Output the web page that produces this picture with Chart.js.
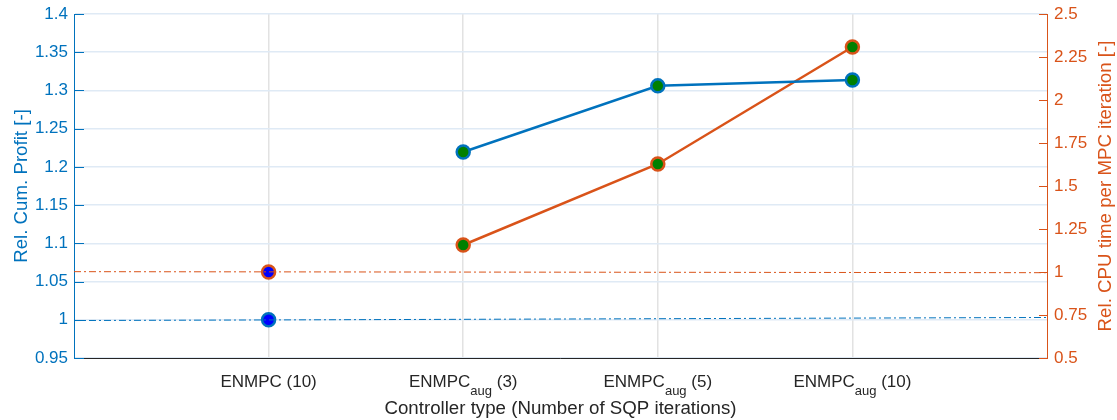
<!DOCTYPE html>
<html>
<head>
<meta charset="utf-8">
<script src="https://cdn.jsdelivr.net/npm/chart.js@4/dist/chart.umd.min.js"></script>
<style>
  html, body { margin: 0; padding: 0; background: #ffffff; }
  #wrap { width: 1117px; height: 420px; position: relative; }
</style>
</head>
<body>
<div id="wrap"><canvas id="c" width="1117" height="420"></canvas></div>
<script>
// ---- data ----
const categoryBase   = ['ENMPC', 'ENMPC', 'ENMPC', 'ENMPC'];
const categorySub    = ['', 'aug', 'aug', 'aug'];
const categorySuffix = [' (10)', ' (3)', ' (5)', ' (10)'];
const categoryPos    = [0, 1, 2, 3];

const relProfit = [1.0, 1.2195, 1.306, 1.3137];
const relCpu    = [1.0, 1.157, 1.628, 2.308];

// dash-dot reference lines (value at left edge, value at right edge)
const refLineX      = [-1, 4];
const refProfitLine = [0.999, 1.003];
const refCpuLine    = [1.002, 0.996];

const leftTicks  = [0.95, 1, 1.05, 1.1, 1.15, 1.2, 1.25, 1.3, 1.35, 1.4];
const rightTicks = [0.5, 0.75, 1, 1.25, 1.5, 1.75, 2, 2.25, 2.5];

const xLabel      = 'Controller type (Number of SQP iterations)';
const leftLabel   = 'Rel. Cum. Profit [-]';
const rightLabel  = 'Rel. CPU time per MPC iteration [-]';

// ---- styles ----
const BLUE = '#0072BD';
const ORANGE = '#D95319';
const GREEN = '#008000';
const MARK_BLUE = '#0000FF';
const FONT = "'Liberation Sans', Arial, Helvetica, sans-serif";

const pts = (xs, ys) => xs.map((x, i) => ({ x: x, y: ys[i] }));

const datasets = [
  { // reference lines (on top)
    data: pts(refLineX, refProfitLine), yAxisID: 'yL', borderColor: BLUE, borderWidth: 1,
    borderDash: [7, 3, 2, 3], pointRadius: 0, showLine: true, order: 0
  },
  {
    data: pts(refLineX, refCpuLine), yAxisID: 'yR', borderColor: ORANGE, borderWidth: 1,
    borderDash: [7, 3, 2, 3], pointRadius: 0, showLine: true, order: 0
  },
  { // augmented series
    data: pts(categoryPos.slice(1), relProfit.slice(1)), yAxisID: 'yL', borderColor: BLUE, borderWidth: 2.5,
    pointBackgroundColor: GREEN, pointBorderColor: BLUE, pointBorderWidth: 2.5, pointRadius: 6.5,
    showLine: true, order: 1
  },
  {
    data: pts(categoryPos.slice(1), relCpu.slice(1)), yAxisID: 'yR', borderColor: ORANGE, borderWidth: 2.5,
    pointBackgroundColor: GREEN, pointBorderColor: ORANGE, pointBorderWidth: 2.5, pointRadius: 6.5,
    showLine: true, order: 1
  },
  { // baseline ENMPC (10)
    data: pts(categoryPos.slice(0, 1), relProfit.slice(0, 1)), yAxisID: 'yL',
    pointBackgroundColor: MARK_BLUE, pointBorderColor: BLUE, pointBorderWidth: 2.5, pointRadius: 6.5,
    showLine: false, order: 1
  },
  {
    data: pts(categoryPos.slice(0, 1), relCpu.slice(0, 1)), yAxisID: 'yR',
    pointBackgroundColor: MARK_BLUE, pointBorderColor: ORANGE, pointBorderWidth: 2.5, pointRadius: 6.5,
    showLine: false, order: 1
  }
];

const fmt = v => String(+(+v).toFixed(2));

const decorPlugin = {
  id: 'decor',
  afterDraw(chart) {
    const ctx = chart.ctx;
    const area = chart.chartArea;
    const xs = chart.scales.x, yL = chart.scales.yL, yR = chart.scales.yR;
    ctx.save();
    // inward ticks
    ctx.lineWidth = 1;
    ctx.strokeStyle = BLUE;
    leftTicks.forEach(v => {
      const y = Math.round(yL.getPixelForValue(v)) + 0.5;
      ctx.beginPath(); ctx.moveTo(area.left, y); ctx.lineTo(area.left + 10, y); ctx.stroke();
    });
    ctx.strokeStyle = ORANGE;
    rightTicks.forEach(v => {
      const y = Math.round(yR.getPixelForValue(v)) + 0.5;
      ctx.beginPath(); ctx.moveTo(area.right, y); ctx.lineTo(area.right - 8, y); ctx.stroke();
    });
    // x tick labels with subscripts
    const mainFont = '17px ' + FONT, subFont = '13px ' + FONT;
    ctx.fillStyle = '#262626';
    ctx.textBaseline = 'alphabetic';
    ctx.textAlign = 'left';
    categoryPos.forEach((p, i) => {
      ctx.font = mainFont;
      const w1 = ctx.measureText(categoryBase[i]).width;
      const w3 = ctx.measureText(categorySuffix[i]).width;
      ctx.font = subFont;
      const w2 = categorySub[i] ? ctx.measureText(categorySub[i]).width : 0;
      const total = w1 + w2 + w3;
      let x = xs.getPixelForValue(p) - total / 2;
      const base = 387;
      ctx.font = mainFont; ctx.fillText(categoryBase[i], x, base); x += w1;
      if (categorySub[i]) { ctx.font = subFont; ctx.fillText(categorySub[i], x, base + 8); x += w2; }
      ctx.font = mainFont; ctx.fillText(categorySuffix[i], x, base);
    });
    // axis titles
    ctx.font = '18.7px ' + FONT;
    ctx.textAlign = 'center';
    ctx.fillStyle = '#262626';
    ctx.fillText(xLabel, (area.left + area.right) / 2, 414);
    ctx.textBaseline = 'middle';
    const cy = (area.top + area.bottom) / 2;
    ctx.fillStyle = BLUE;
    ctx.save(); ctx.translate(22, cy); ctx.rotate(-Math.PI / 2); ctx.fillText(leftLabel, 0, 0); ctx.restore();
    ctx.fillStyle = ORANGE;
    ctx.save(); ctx.translate(1106, cy); ctx.rotate(-Math.PI / 2); ctx.fillText(rightLabel, 0, 0); ctx.restore();
    ctx.restore();
  }
};

Chart.defaults.font.family = FONT;
Chart.defaults.font.size = 17;

new Chart(document.getElementById('c'), {
  type: 'scatter',
  data: { datasets: datasets },
  plugins: [decorPlugin],
  options: {
    responsive: false,
    animation: false,
    events: [],
    layout: { padding: { top: 14, left: 0, right: 0, bottom: 0 } },
    plugins: { legend: { display: false }, tooltip: { enabled: false } },
    scales: {
      x: {
        type: 'linear', position: 'bottom', min: -1, max: 4,
        afterBuildTicks: s => { s.ticks = categoryPos.map(v => ({ value: v })); },
        afterFit: s => { s.height = 62; s.paddingLeft = 0; s.paddingRight = 0; },
        ticks: { display: false },
        grid: { color: '#e2e2e2', lineWidth: 1.5, drawTicks: false },
        border: { display: true, color: '#262626', width: 1 }
      },
      yL: {
        type: 'linear', position: 'left', min: 0.95, max: 1.4,
        afterBuildTicks: s => { s.ticks = leftTicks.map(v => ({ value: v })); },
        afterFit: s => { s.width = 74; s.paddingTop = 0; s.paddingBottom = 0; },
        ticks: { color: BLUE, padding: 6, callback: fmt, font: { size: 17 } },
        grid: { color: '#dfeaf5', lineWidth: 1.5, drawTicks: false },
        border: { display: true, color: BLUE, width: 1 }
      },
      yR: {
        type: 'linear', position: 'right', min: 0.5, max: 2.5,
        afterBuildTicks: s => { s.ticks = rightTicks.map(v => ({ value: v })); },
        afterFit: s => { s.width = 70; s.paddingTop = 0; s.paddingBottom = 0; },
        ticks: { color: ORANGE, padding: 7, callback: fmt, font: { size: 17 } },
        grid: { display: false, drawTicks: false },
        border: { display: true, color: ORANGE, width: 1 }
      }
    }
  }
});
</script>
</body>
</html>
